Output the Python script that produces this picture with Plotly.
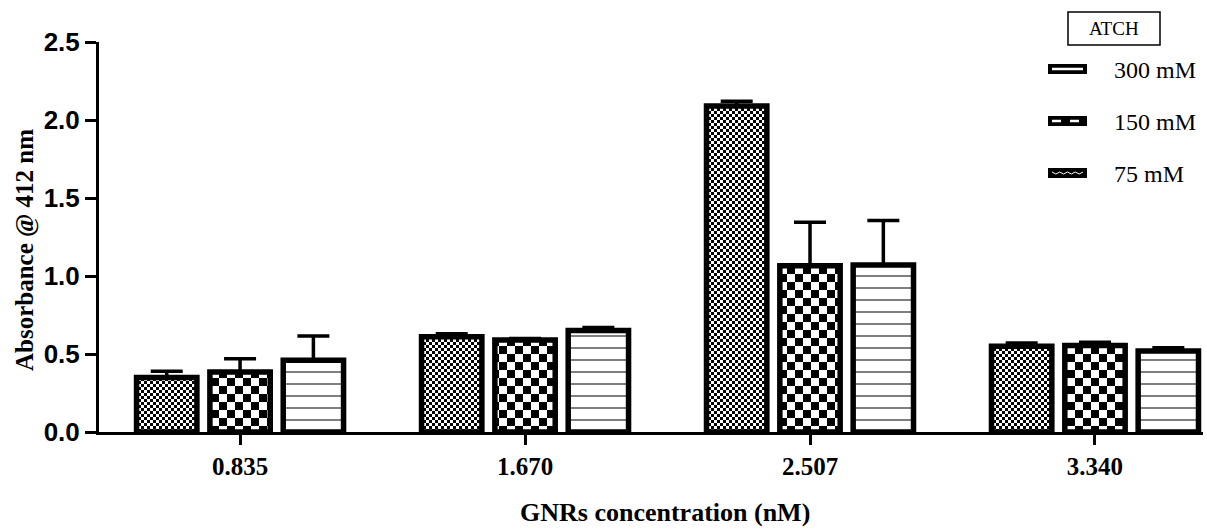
import plotly.graph_objects as go

# GNR concentrations (nM) on the x axis
concentrations = ["0.835", "1.670", "2.507", "3.340"]

# Absorbance at 412 nm for each ATCH concentration, with upper SD
abs_300 = [0.35, 0.61, 2.09, 0.55]
err_300 = [0.04, 0.02, 0.03, 0.02]
abs_150 = [0.385, 0.59, 1.065, 0.555]
err_150 = [0.085, 0.01, 0.28, 0.02]
abs_75 = [0.46, 0.65, 1.07, 0.52]
err_75 = [0.155, 0.02, 0.285, 0.02]

series_names = ["300 mM", "150 mM", "75 mM"]

SERIF = "Liberation Serif"
SANS = "Liberation Sans"

# plot area in pixels (used to place the hand-drawn key and titles)
W, H = 1207, 529
M_L, M_R, M_T, M_B = 99, 4, 42, 97
PW = W - M_L - M_R
PH = H - M_T - M_B


def px(x):
    return (x - M_L) / PW


def py(y):
    return (H - M_B - y) / PH


fig = go.Figure()

patterns = [
    dict(shape=".", size=6, solidity=0.5, fgcolor="black", bgcolor="white"),
    dict(shape=".", size=16, solidity=0.5, fgcolor="black", bgcolor="white"),
    dict(shape="-", size=12, solidity=0.17, fgcolor="black", bgcolor="white"),
]

for name, vals, errs, pat in zip(series_names, [abs_300, abs_150, abs_75],
                                 [err_300, err_150, err_75], patterns):
    fig.add_trace(go.Bar(
        x=concentrations, y=vals, name=name, showlegend=False,
        marker=dict(color="white", line=dict(color="black", width=5.5), pattern=pat),
        error_y=dict(type="data", symmetric=False, array=errs,
                     arrayminus=[0] * len(errs), color="black",
                     thickness=3.5, width=16),
    ))

fig.update_layout(
    width=W, height=H,
    margin=dict(l=M_L, r=M_R, t=M_T, b=M_B),
    paper_bgcolor="white", plot_bgcolor="white",
    barmode="group", bargap=0.228, bargroupgap=0.177,
    font=dict(family=SERIF, color="black"),
)

fig.update_xaxes(
    type="category", range=[-0.495, 3.379],
    showline=True, linecolor="black", linewidth=3,
    ticks="outside", ticklen=10, tickwidth=3, tickcolor="black",
    tickfont=dict(family=SERIF, size=25, weight="bold", color="black"),
    showgrid=False, zeroline=False,
)

fig.update_yaxes(
    range=[0, 2.5], tickvals=[0, 0.5, 1.0, 1.5, 2.0, 2.5],
    ticktext=["0.0", "0.5", "1.0", "1.5", "2.0", "2.5"],
    showline=True, linecolor="black", linewidth=3,
    ticks="outside", ticklen=11, tickwidth=3, tickcolor="black",
    tickfont=dict(family=SANS, size=26, weight="bold", color="black"),
    showgrid=False, zeroline=False,
)

annotations = [
    # axis titles
    dict(text="GNRs concentration (nM)", xref="paper", yref="paper",
         x=px(665), y=py(512), showarrow=False, xanchor="center", yanchor="middle",
         font=dict(family=SERIF, size=26, weight="bold", color="black")),
    dict(text="Absorbance @ 412 nm", xref="paper", yref="paper",
         x=px(25), y=py(250), showarrow=False, xanchor="center", yanchor="middle",
         textangle=-90,
         font=dict(family=SERIF, size=25, weight="bold", color="black")),
    # key header
    dict(text="ATCH", xref="paper", yref="paper", x=px(1114), y=py(29),
         showarrow=False, xanchor="center", yanchor="middle",
         font=dict(family=SERIF, size=19, color="black")),
]

shapes = [
    dict(type="rect", xref="paper", yref="paper",
         x0=px(1068), x1=px(1160), y0=py(45), y1=py(12),
         line=dict(color="black", width=1.5), fillcolor="white"),
]

key_rows = [69, 121, 173]
for name, yc, style in zip(series_names, key_rows, ["solid", "dash", "wave"]):
    shapes.append(dict(type="rect", xref="paper", yref="paper",
                       x0=px(1048), x1=px(1087), y0=py(yc + 5), y1=py(yc - 5),
                       line=dict(width=0), fillcolor="black"))
    if style == "wave":
        pts = []
        for i in range(9):
            xx = 1052 + i * 31 / 8
            yy = yc + (1 if i % 2 else -1)
            pts.append(f"{px(xx)},{py(yy)}")
        path = "M" + " L".join(pts)
        shapes.append(dict(type="path", xref="paper", yref="paper", path=path,
                           line=dict(color="white", width=1)))
    else:
        shapes.append(dict(type="line", xref="paper", yref="paper",
                           x0=px(1052), x1=px(1083), y0=py(yc), y1=py(yc),
                           line=dict(color="white", width=2.5, dash=style)))
    annotations.append(dict(text=name, xref="paper", yref="paper",
                            x=px(1112), y=py(yc + 1), showarrow=False,
                            xanchor="left", yanchor="middle",
                            font=dict(family=SERIF, size=24, color="black")))

fig.update_layout(shapes=shapes, annotations=annotations)

# turn the dot fills into square checkerboards
checker_js = """
var NS = 'http://www.w3.org/2000/svg';
document.querySelectorAll('pattern').forEach(function(p) {
  if (!p.querySelector('circle')) return;
  var w = parseFloat(p.getAttribute('width'));
  while (p.firstChild) p.removeChild(p.firstChild);
  function sq(x, y, s, c) {
    var r = document.createElementNS(NS, 'rect');
    r.setAttribute('x', x); r.setAttribute('y', y);
    r.setAttribute('width', s); r.setAttribute('height', s);
    r.setAttribute('fill', c);
    p.appendChild(r);
  }
  sq(0, 0, w, 'white');
  sq(0, 0, w / 2, 'black');
  sq(w / 2, w / 2, w / 2, 'black');
});
"""

fig.write_html("out.html", post_script=checker_js)
